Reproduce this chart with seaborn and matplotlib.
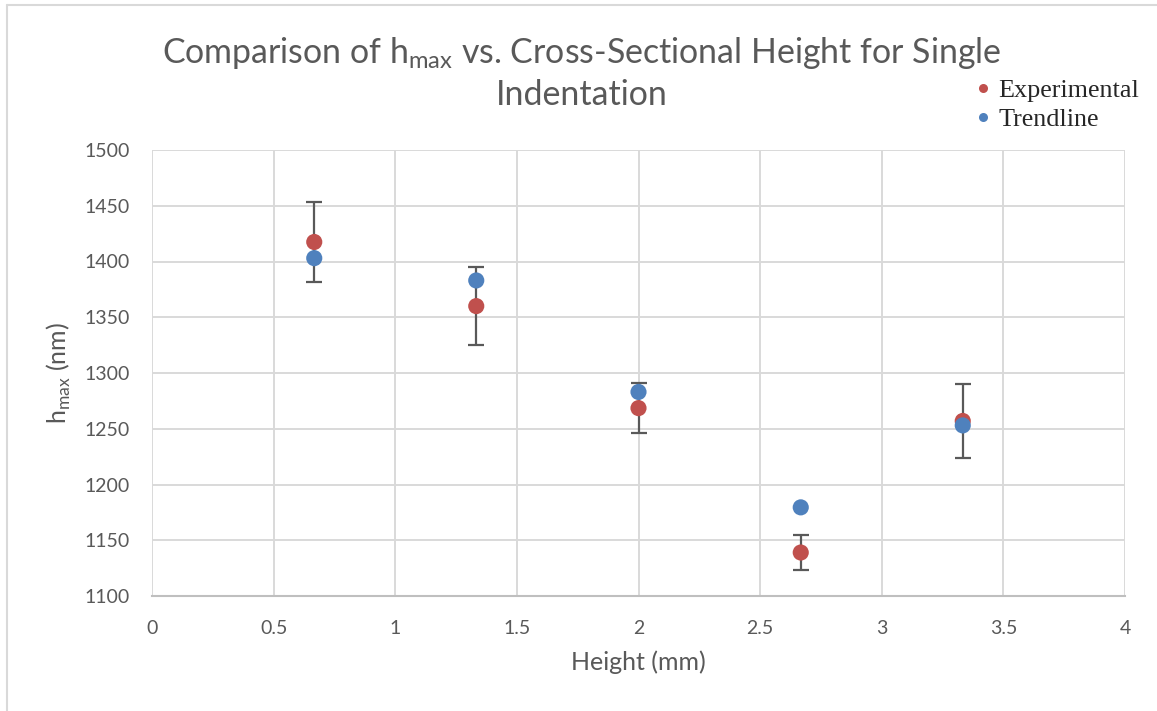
import numpy as np
import pandas as pd
import seaborn as sns
import matplotlib
matplotlib.use("Agg")
import matplotlib.pyplot as plt
from matplotlib.lines import Line2D

# ---- data ----
heights = [0.667, 1.333, 2.0, 2.667, 3.333]
experimental = [1417.5, 1360, 1268.5, 1139, 1257]
exp_err = [36, 35, 22.5, 16, 33]
trendline = [1403, 1383, 1283, 1179.5, 1253]
series_names = ["Experimental", "Trendline"]
x_ticks = [0, 0.5, 1, 1.5, 2, 2.5, 3, 3.5, 4]
y_ticks = [1100, 1150, 1200, 1250, 1300, 1350, 1400, 1450, 1500]

RED = "#C0504D"
BLUE = "#4F81BD"
GRAY_TXT = "#595959"
GRID = "#D9D9D9"

sns.set_theme(style="whitegrid")
plt.rcParams["font.family"] = ["Lato", "DejaVu Sans"]
plt.rcParams["mathtext.fontset"] = "custom"
plt.rcParams["mathtext.rm"] = "Lato"

df = pd.DataFrame({
    "Height": heights * 2,
    "hmax": experimental + trendline,
    "series": [series_names[0]] * len(heights) + [series_names[1]] * len(heights),
})

fig = plt.figure(figsize=(11.57, 7.11), dpi=100)
ax = fig.add_axes([152 / 1157, 1 - 596 / 711, (1125 - 152) / 1157, (596 - 150) / 711])

ax.errorbar(heights, experimental, yerr=exp_err, fmt="none", ecolor="#595959",
            elinewidth=1.6, capsize=6, capthick=1.6, zorder=2)

sns.scatterplot(data=df, x="Height", y="hmax", hue="series",
                palette={"Experimental": RED, "Trendline": BLUE},
                s=135, linewidth=0, ax=ax, zorder=3, legend=False)

ax.set_xlim(0, 4)
ax.set_ylim(1100, 1500)
ax.set_xticks(x_ticks)
ax.set_xticklabels([f"{t:g}" for t in x_ticks])
ax.set_yticks(y_ticks)
ax.set_yticklabels([str(t) for t in y_ticks])
ax.grid(True, color=GRID, linewidth=1.4)
ax.set_axisbelow(True)
for s in ["top", "right", "left"]:
    ax.spines[s].set_visible(False)
ax.spines["bottom"].set_visible(True)
ax.spines["bottom"].set_color("#BFBFBF")
ax.spines["bottom"].set_linewidth(1.5)
ax.tick_params(axis="both", length=0, labelsize=14, labelcolor=GRAY_TXT)
ax.tick_params(axis="y", pad=16)
ax.tick_params(axis="x", pad=17)

ax.set_xlabel("Height (mm)", fontsize=18, color=GRAY_TXT, labelpad=10)
ax.set_ylabel(r"h$_{\mathregular{max}}$ (nm)", fontsize=18, color=GRAY_TXT, labelpad=8)

fig.text(0.503, 0.897,
         "Comparison of h$_{\\mathregular{max}}$ vs. Cross-Sectional Height for Single\nIndentation",
         ha="center", va="center", fontsize=24.4, color=GRAY_TXT, linespacing=1.3)

handles = [Line2D([0], [0], marker="o", linestyle="none", markersize=6.5,
                  markerfacecolor=c, markeredgewidth=0) for c in (RED, BLUE)]
fig.legend(handles, series_names, loc="upper left", bbox_to_anchor=(967 / 1157, 1 - 79 / 711),
           frameon=False, prop={"family": "Liberation Serif", "size": 18.8},
           handletextpad=0.0, labelspacing=0.22, handlelength=1.2, borderaxespad=0,
           borderpad=0)

# chart area border
fig.add_artist(Line2D([7 / 1157, 1], [1 - 5 / 711, 1 - 5 / 711], color=GRID, linewidth=1.5,
                      transform=fig.transFigure))
fig.add_artist(Line2D([7 / 1157, 7 / 1157], [0, 1 - 5 / 711], color=GRID, linewidth=1.5,
                      transform=fig.transFigure))

fig.savefig("out.png", dpi=100)
